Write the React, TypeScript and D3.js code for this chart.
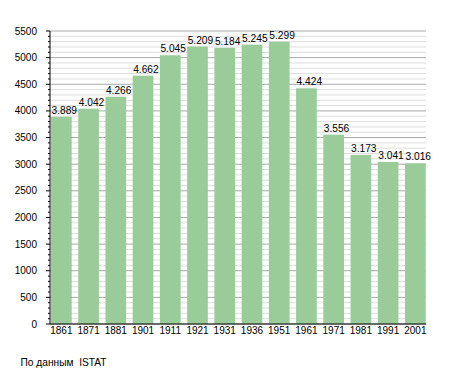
import React from "react";
import * as d3 from "d3";

const years = ["1861", "1871", "1881", "1901", "1911", "1921", "1931", "1936", "1951", "1961", "1971", "1981", "1991", "2001"];
const population = [3889, 4042, 4266, 4662, 5045, 5209, 5184, 5245, 5299, 4424, 3556, 3173, 3041, 3016];
const sourceNote = "По данным  ISTAT";

const width = 455;
const height = 373;
const left = 50;
const right = 426;
const top = 31;
const bottom = 324;

const fmt = (v: number) => {
  const s = String(v);
  return s.length > 3 ? s.slice(0, s.length - 3) + "." + s.slice(-3) : s;
};

export default function App() {
  const x = d3.scaleBand<string>().domain(years).range([51, 425.7]).paddingInner(0.24).paddingOuter(0);
  const y = d3.scaleLinear().domain([0, 5500]).range([bottom, top]);

  const minor = d3.range(0, 5501, 100);
  const major = d3.range(0, 5501, 500);

  return (
    <svg
      width={width}
      height={height}
      style={{ position: "absolute", left: 0, top: 0, fontFamily: "Liberation Sans, Arial, sans-serif" }}
    >
      <rect width={width} height={height} fill="#fff" />
      {/* grid */}
      {minor.filter(v => v % 500 !== 0).map(v => (
        <line key={"m" + v} x1={left} x2={right} y1={y(v)} y2={y(v)} stroke="#dddddd" strokeWidth={1} />
      ))}
      {major.map(v => (
        <line key={"M" + v} x1={left} x2={right} y1={y(v)} y2={y(v)} stroke="#a8a8a8" strokeWidth={1} />
      ))}
      {/* bars */}
      {years.map((yr, i) => (
        <rect
          key={yr}
          x={x(yr)}
          y={y(population[i])}
          width={x.bandwidth()}
          height={bottom - y(population[i])}
          fill="#99cc99"
        />
      ))}
      {years.map((yr, i) => (
        <text key={"l" + yr} x={(x(yr) ?? 0) + 0.5} y={y(population[i]) - 3} fontSize={10.2} fill="#000">
          {fmt(population[i])}
        </text>
      ))}
      {/* y axis */}
      <line x1={left} x2={left} y1={top} y2={bottom} stroke="#000" />
      {minor.map(v => (
        <line key={"t" + v} x1={v % 500 === 0 ? left - 4 : left - 2} x2={left} y1={y(v)} y2={y(v)} stroke="#000" />
      ))}
      {major.map(v => (
        <text key={"yl" + v} x={37} y={y(v) + 3.5} textAnchor="end" fontSize={10} fill="#000">
          {v}
        </text>
      ))}
      {/* x axis */}
      <line x1={left} x2={right} y1={bottom} y2={bottom} stroke="#000" />
      {years.map(yr => (
        <text key={"x" + yr} x={(x(yr) ?? 0) + x.bandwidth() / 2} y={333.5} textAnchor="middle" fontSize={10} fill="#000">
          {yr}
        </text>
      ))}
      <text x={20.5} y={366} fontSize={10.2} fill="#000" style={{ whiteSpace: "pre" }}>{sourceNote}</text>
    </svg>
  );
}
